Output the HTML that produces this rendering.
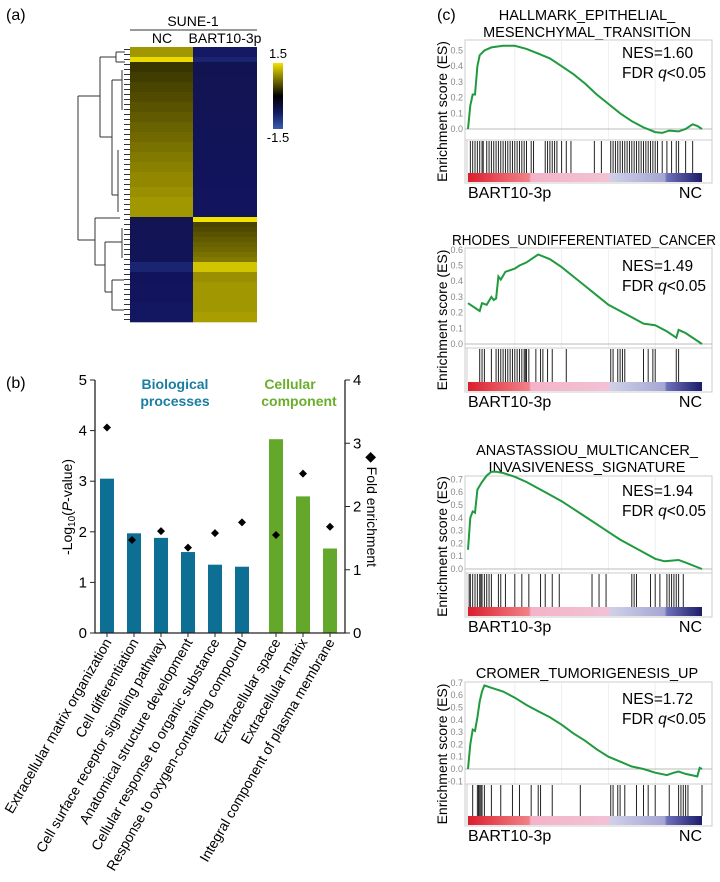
<!DOCTYPE html>
<html><head><meta charset="utf-8"><style>
body{margin:0;background:#fff;}
svg{display:block;font-family:"Liberation Sans",sans-serif;}
</style></head><body>
<svg id="fig" width="720" height="882" viewBox="0 0 720 882">
<text x="6" y="20" font-size="16">(a)</text>
<text x="6" y="388" font-size="16">(b)</text>
<text x="437" y="20" font-size="16">(c)</text>
<g id="heat">
<text x="193" y="26" font-size="14" text-anchor="middle">SUNE-1</text>
<line x1="130" y1="30" x2="257" y2="30" stroke="#333" stroke-width="1"/>
<text x="162" y="43" font-size="14" text-anchor="middle">NC</text>
<text x="225" y="43" font-size="14" text-anchor="middle">BART10-3p</text>
</g>
<g id="dendro" fill="none" stroke="#333" stroke-width="1">
<path d="M78 96 V240 M78 96 H100 M78 240 H95 M100 57 V137 M100 57 H116 M100 137 H112 M116 52 V62 M116 52 H125 M116 62 H125 M112 80 V195 M112 80 H122 M112 195 H118 M122 70 V110 M118 150 V212 M95 218 V265 M95 218 H120 M95 265 H105 M105 242 V292 M105 242 H122 M105 292 H112 M122 228 V258 M112 280 V310 M112 280 H124 M112 310 H124"/>
</g>
<g id="cbar">
<defs><linearGradient id="hg" x1="0" y1="0" x2="0" y2="1">
<stop offset="0" stop-color="#f2e200"/><stop offset="0.5" stop-color="#000"/><stop offset="0.75" stop-color="#121a60"/><stop offset="1" stop-color="#3a5cae"/></linearGradient></defs>
<rect x="273" y="63" width="10" height="66" fill="url(#hg)"/>
<text x="278" y="58" font-size="13" text-anchor="middle">1.5</text>
<text x="278" y="142" font-size="13" text-anchor="middle">-1.5</text>
</g>
<g id="barchart"></g>
<g id="gsea"></g>
</svg>
<script>
const NS="http://www.w3.org/2000/svg";
function mk(parent,tag,attrs,txt){const e=document.createElementNS(NS,tag);for(const k in attrs)e.setAttribute(k,attrs[k]);if(txt!==undefined)e.textContent=txt;parent.appendChild(e);return e;}

// ---------- Heatmap data ----------
const ncVals=[1.0,1.0,1.45,0.35,0.35,0.4,0.4,0.45,0.45,0.5,0.5,0.55,0.55,0.6,0.6,0.65,0.65,0.7,0.7,0.75,0.75,0.8,0.8,0.85,0.85,0.9,0.9,0.9,0.95,0.95,1.0,1.0,1.0,1.0,
-0.7,-0.75,-0.75,-0.75,-0.75,-0.8,-0.8,-0.8,-0.8,-1.2,-1.2,-0.85,-0.85,-0.9,-0.9,-0.9,-0.9,-0.95,-0.95,-0.95,-0.95];
const bartVals=[-1.0,-1.0,-1.2,-0.7,-0.7,-0.7,-0.72,-0.72,-0.72,-0.75,-0.75,-0.75,-0.75,-0.78,-0.78,-0.78,-0.8,-0.8,-0.8,-0.8,-0.82,-0.82,-0.82,-0.85,-0.85,-0.85,-0.85,-0.85,-0.88,-0.88,-0.88,-0.9,-0.9,-0.9,
1.5,0.45,0.5,0.55,0.6,0.65,0.7,0.75,0.8,1.3,1.3,0.95,0.95,1.0,1.0,1.0,1.0,1.0,1.0,1.05,1.05];
function heatColor(v){const t=Math.max(-1.5,Math.min(1.5,v))/1.5;
 if(t>=0){return `rgb(${Math.round(242*t)},${Math.round(226*t)},0)`;}
 const s=-t; return `rgb(${Math.round(18+40*Math.max(0,s-0.6))},${Math.round(20+80*Math.max(0,s-0.6))},${Math.round(40+90*s)})`;}
(function(){const g=document.getElementById('heat');const top=47,bot=322,n=ncVals.length,h=(bot-top)/n;
 for(let i=0;i<n;i++){
  const r1=mk(g,'rect',{x:130,y:top+i*h,width:63,height:h+0.3,fill:heatColor(ncVals[i])});
  
  
  const r2=mk(g,'rect',{x:193,y:top+i*h,width:64,height:h+0.3,fill:heatColor(bartVals[i])});
  
  
 }
 const d=document.getElementById('dendro');
 for(let i=0;i<n;i++){const l=mk(d,'line',{x1:124,x2:130,y1:top+i*h+h/2,y2:top+i*h+h/2});
  
  }
})();

// ---------- Bar chart data ----------
const categories=["Extracellular matrix organization","Cell differentiation","Cell surface receptor signaling pathway","Anatomical structure development","Cellular response to organic substance","Response to oxygen-containing compound","Extracellular space","Extracellular matrix","Integral component of plasma membrane"];
const groups=["bp","bp","bp","bp","bp","bp","cc","cc","cc"];
const logP=[3.05,1.97,1.88,1.6,1.35,1.31,3.83,2.7,1.67];
const foldEnrich=[3.25,1.47,1.61,1.35,1.58,1.75,1.55,2.52,1.68];
const leftTicks=[0,1,2,3,4,5];
const rightTicks=[0,1,2,3,4];
(function(){const g=document.getElementById('barchart');
 const x0=95,x1=345,y0=633,y1=380;
 const yL=v=>y0-(v/5)*(y0-y1), yR=v=>y0-(v/4)*(y0-y1);
 const xc=i=>107+i*27+(i>=6?7:0);
 for(let i=0;i<logP.length;i++){
  const b=mk(g,'rect',{x:xc(i)-7,y:yL(logP[i]),width:14,height:y0-yL(logP[i]),fill:groups[i]==='bp'?'#0e6f94':'#63a82a'});
  
  
 }
 for(let i=0;i<foldEnrich.length;i++){const cx=xc(i)+(i===1?-2:0),cy=yR(foldEnrich[i]);
  const p=mk(g,'path',{d:`M${cx} ${cy-4}L${cx+4} ${cy}L${cx} ${cy+4}L${cx-4} ${cy}Z`,fill:'#000'});
  
  }
 mk(g,'path',{d:`M${x0} ${y1}V${y0}H${x1}V${y1}`,fill:'none',stroke:'#222','stroke-width':1.3});
 for(const t of leftTicks){mk(g,'line',{x1:x0-5,x2:x0,y1:yL(t),y2:yL(t),stroke:'#222'});
  const tx=mk(g,'text',{x:x0-8,y:yL(t)+5,'font-size':15,'text-anchor':'end'},String(t));
  
  }
 for(const t of rightTicks){mk(g,'line',{x1:x1,x2:x1+5,y1:yR(t),y2:yR(t),stroke:'#222'});
  const tx=mk(g,'text',{x:x1+8,y:yR(t)+5,'font-size':15},String(t));
  
  }
 for(let i=0;i<categories.length;i++){mk(g,'line',{x1:xc(i),x2:xc(i),y1:y0,y2:y0+4,stroke:'#222'});
  const tx=mk(g,'text',{x:0,y:0,'font-size':14,'text-anchor':'end',transform:`translate(${xc(i)+5},${y0+9}) rotate(-60)`},categories[i]);
  
  }
 const yt=mk(g,'text',{x:0,y:0,'font-size':14,'text-anchor':'middle',transform:'translate(72,507) rotate(-90)'});
 yt.innerHTML='-Log<tspan font-size="10" dy="3">10</tspan><tspan dy="-3">(</tspan><tspan font-style="italic">P</tspan>-value)';
 
 
 const rt=mk(g,'text',{x:0,y:0,'font-size':14,transform:'translate(367,452) rotate(90)'},'◆ Fold enrichment');
 
 
 const a=mk(g,'text',{x:175,y:389,'font-size':14,'font-weight':'bold',fill:'#1a7ea0','text-anchor':'middle'},'Biological');
 
 mk(g,'text',{x:175,y:406,'font-size':14,'font-weight':'bold',fill:'#1a7ea0','text-anchor':'middle'},'processes');
 const c=mk(g,'text',{x:290,y:389,'font-size':14,'font-weight':'bold',fill:'#6aae2a','text-anchor':'middle'},'Cellular');
 
 mk(g,'text',{x:299,y:406,'font-size':14,'font-weight':'bold',fill:'#6aae2a','text-anchor':'middle'},'component');
})();

// ---------- GSEA data ----------
const titles1=["HALLMARK_EPITHELIAL_","MESENCHYMAL_TRANSITION"];
const titles2=["RHODES_UNDIFFERENTIATED_CANCER"];
const titles3=["ANASTASSIOU_MULTICANCER_","INVASIVENESS_SIGNATURE"];
const titles4=["CROMER_TUMORIGENESIS_UP"];
const nesValues=["1.60","1.49","1.94","1.72"];
const rank1=[0,0.01,0.02,0.03,0.04,0.05,0.07,0.1,0.15,0.2,0.25,0.3,0.35,0.4,0.45,0.5,0.55,0.6,0.65,0.7,0.75,0.8,0.83,0.86,0.9,0.93,0.96,0.98,1.0];
const es1=[0,0.15,0.22,0.22,0.4,0.47,0.5,0.52,0.53,0.53,0.51,0.48,0.45,0.4,0.35,0.29,0.22,0.16,0.1,0.05,0.01,-0.02,-0.025,-0.01,-0.015,0.0,0.03,0.02,0.0];
const rank2=[0,0.05,0.06,0.08,0.1,0.11,0.12,0.13,0.14,0.16,0.2,0.22,0.25,0.27,0.3,0.35,0.4,0.45,0.5,0.55,0.6,0.65,0.7,0.75,0.8,0.85,0.89,0.9,0.93,1.0];
const es2=[0.26,0.21,0.26,0.25,0.3,0.28,0.29,0.43,0.41,0.46,0.48,0.5,0.52,0.54,0.57,0.54,0.49,0.43,0.37,0.31,0.25,0.21,0.17,0.13,0.12,0.08,0.04,0.09,0.07,0.0];
const rank3=[0,0.01,0.02,0.03,0.04,0.06,0.08,0.1,0.12,0.15,0.2,0.25,0.3,0.35,0.4,0.45,0.5,0.55,0.6,0.65,0.7,0.75,0.8,0.84,0.9,0.93,1.0];
const es3=[0.15,0.4,0.45,0.44,0.62,0.68,0.73,0.76,0.76,0.75,0.72,0.68,0.63,0.58,0.53,0.47,0.41,0.35,0.29,0.23,0.18,0.13,0.08,0.06,0.07,0.05,0.0];
const rank4=[0,0.01,0.02,0.03,0.04,0.05,0.06,0.07,0.1,0.15,0.2,0.25,0.3,0.35,0.4,0.45,0.5,0.55,0.6,0.65,0.7,0.75,0.8,0.85,0.88,0.9,0.93,0.98,0.99,1.0];
const es4=[0,0.2,0.32,0.31,0.42,0.55,0.63,0.68,0.66,0.63,0.58,0.52,0.47,0.42,0.36,0.29,0.23,0.16,0.1,0.06,0.02,0.0,-0.03,-0.05,-0.03,-0.02,-0.04,-0.06,0.01,0.0];
const hits1=[0.01,0.02,0.03,0.04,0.05,0.06,0.065,0.08,0.09,0.1,0.11,0.12,0.13,0.14,0.15,0.16,0.17,0.18,0.19,0.2,0.21,0.22,0.23,0.24,0.25,0.27,0.28,0.33,0.34,0.35,0.36,0.37,0.38,0.4,0.42,0.44,0.54,0.57,0.61,0.62,0.63,0.64,0.65,0.66,0.67,0.68,0.69,0.7,0.71,0.72,0.73,0.74,0.75,0.76,0.77,0.78,0.79,0.8,0.81,0.83,0.85,0.87,0.89,0.9,0.93,0.96];
const hits2=[0.05,0.06,0.07,0.1,0.12,0.13,0.14,0.15,0.16,0.17,0.18,0.19,0.2,0.21,0.22,0.23,0.24,0.245,0.25,0.26,0.29,0.31,0.32,0.34,0.36,0.42,0.61,0.62,0.64,0.65,0.66,0.67,0.75,0.77,0.79,0.8,0.89,0.9];
const hits3=[0.005,0.01,0.02,0.03,0.04,0.05,0.055,0.06,0.07,0.08,0.09,0.1,0.13,0.14,0.16,0.2,0.23,0.26,0.31,0.33,0.36,0.39,0.53,0.56,0.59,0.7,0.71,0.72,0.78,0.8,0.82,0.85,0.86,0.87,0.88,0.89,0.9,0.92];
const hits4=[0.02,0.04,0.045,0.05,0.055,0.06,0.07,0.1,0.14,0.19,0.22,0.27,0.3,0.31,0.36,0.48,0.61,0.62,0.64,0.65,0.67,0.72,0.75,0.77,0.8,0.86,0.9,0.91,0.92,0.93,0.94,1.0];
const ticks1=[0,0.1,0.2,0.3,0.4,0.5];
const ticks2=[0,0.1,0.2,0.3,0.4,0.5,0.6];
const ticks3=[0,0.1,0.2,0.3,0.4,0.5,0.6,0.7];
const ticks4=[-0.1,0,0.1,0.2,0.3,0.4,0.5,0.6,0.7];

(function(){const G=document.getElementById('gsea');
 mk(G,'defs',{}).innerHTML='<linearGradient id="rb" x1="0" x2="1"><stop offset="0" stop-color="#d91e2c"/><stop offset="0.15" stop-color="#ea5a63"/><stop offset="0.26" stop-color="#f08088"/><stop offset="0.27" stop-color="#f4b3c8"/><stop offset="0.6" stop-color="#f2c2d4"/><stop offset="0.61" stop-color="#cfd0e8"/><stop offset="0.84" stop-color="#a5a6d3"/><stop offset="0.85" stop-color="#6d70b8"/><stop offset="1" stop-color="#1c1c6a"/></linearGradient>';
 const panels=[
  {t:titles1,ty:20,top:40,zero:129,per:15.7,ticks:ticks1,rank:rank1,es:es1,hits:hits1,hy:140,cb:173,lab:198,nes:58},
  {t:titles2,ty:245,top:248,zero:344,per:15.7,ticks:ticks2,rank:rank2,es:es2,hits:hits2,hy:348,cb:382,lab:407,nes:271},
  {t:titles3,ty:455,top:476,zero:569,per:12.8,ticks:ticks3,rank:rank3,es:es3,hits:hits3,hy:573,cb:607,lab:632,nes:496},
  {t:titles4,ty:678,top:682,zero:769,per:12.3,ticks:ticks4,rank:rank4,es:es4,hits:hits4,hy:784,cb:816,lab:841,nes:704}];
 const xL=468,xR=702,boxR=712;
 const X=f=>xL+f*(xR-xL);
 panels.forEach((p,k)=>{
  const g=mk(G,'g',{});
  
  
  const Y=v=>p.zero-v/0.1*p.per;
  p.t.forEach((s,j)=>{const at={x:587,y:p.ty+j*17,'font-size':14.5,'text-anchor':'middle'};
   if(s.length>28){at.textLength=264;at.lengthAdjust='spacingAndGlyphs';at.x=584;}
   const t=mk(g,'text',at,s);
   });
  const bottom=p.cb+10;
  mk(g,'rect',{x:xL-3,y:p.top,width:boxR-xL+3,height:bottom-p.top,fill:'#fff',stroke:'#ccc'});
  mk(g,'rect',{x:xL-3,y:p.hy,width:3,height:bottom-p.hy,fill:'#e6e6e6'});
  for(const f of [0.2,0.4,0.6,0.8]) mk(g,'line',{x1:X(f),x2:X(f),y1:p.top,y2:p.hy,stroke:'#eee'});
  mk(g,'line',{x1:xL-3,x2:boxR,y1:p.hy,y2:p.hy,stroke:'#ccc'});
  mk(g,'line',{x1:xL-3,x2:boxR,y1:Y(0),y2:Y(0),stroke:'#bbb'});
  for(const t of p.ticks){const tx=mk(g,'text',{x:xL-5,y:Y(t)+3,'font-size':9,fill:'#888','text-anchor':'end'},t.toFixed(1));
   }
  for(const h of p.hits){const l=mk(g,'line',{x1:X(h),x2:X(h),y1:p.hy+1,y2:p.cb,stroke:'#222','stroke-width':1});
   }
  mk(g,'rect',{x:xL,y:p.cb,width:xR-xL,height:9,fill:'url(#rb)'});
  const pts=p.rank.map((r,i)=>X(r).toFixed(1)+','+Y(p.es[i]).toFixed(1)).join(' ');
  const pl=mk(g,'polyline',{points:pts,fill:'none',stroke:'#1f9a3e','stroke-width':2});
  
  const n=mk(g,'text',{x:622,y:p.nes,'font-size':15.5},'NES='+nesValues[k]);
  
  const f=mk(g,'text',{x:622,y:p.nes+20,'font-size':15.5});
  f.innerHTML='FDR <tspan font-style="italic">q</tspan>&lt;0.05';
  
  const yl=mk(g,'text',{x:0,y:0,'font-size':14,'text-anchor':'middle',transform:`translate(447,${(p.top+bottom)/2}) rotate(-90)`},'Enrichment score (ES)');
  
  const a=mk(g,'text',{x:468,y:p.lab,'font-size':16},'BART10-3p');
  
  const b=mk(g,'text',{x:702,y:p.lab,'font-size':16,'text-anchor':'end'},'NC');
  
 });
})();
</script>
</body></html>
